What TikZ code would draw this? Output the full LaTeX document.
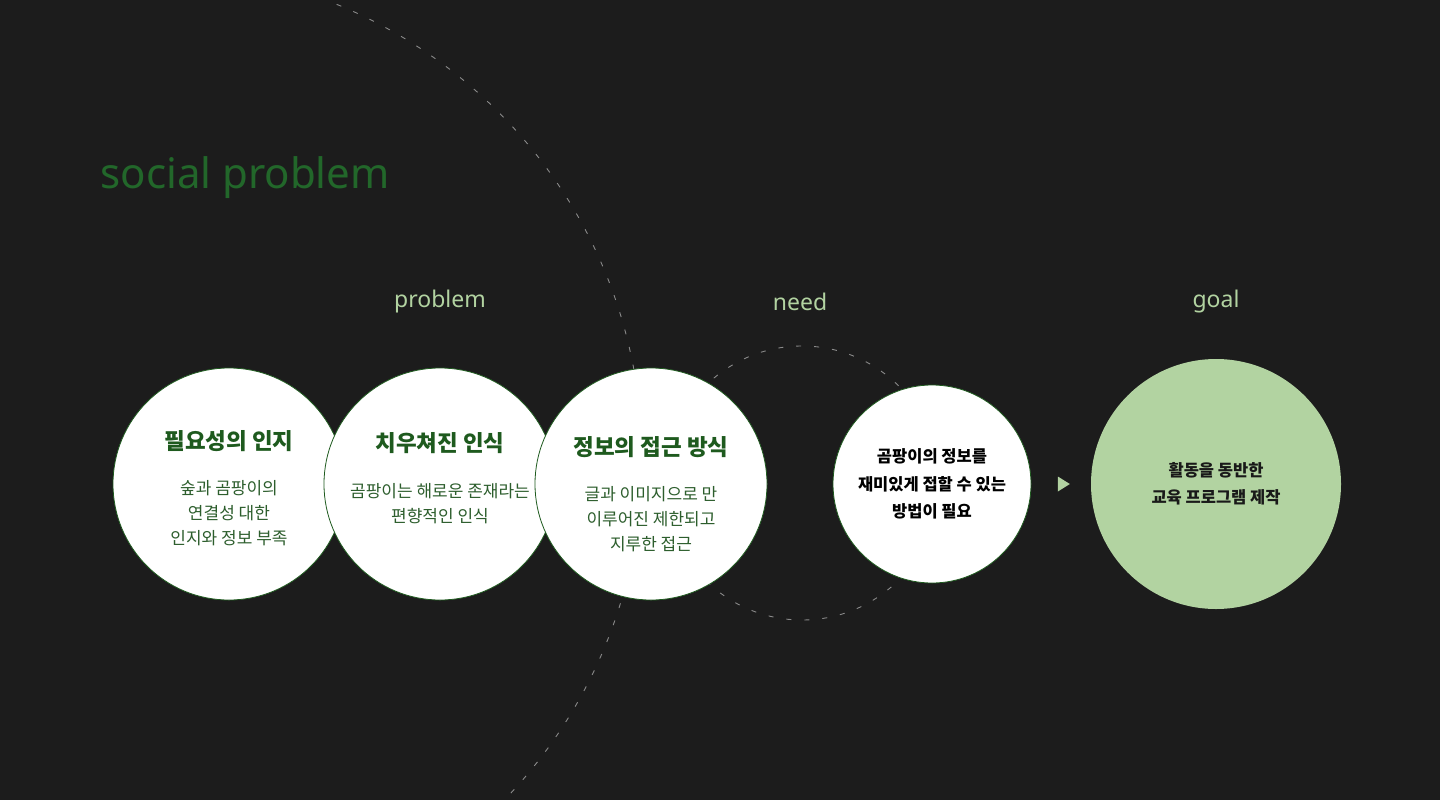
\documentclass[tikz,border=0pt]{standalone}
\usepackage{fontspec}
\setmainfont{Noto Sans}
\newfontfamily\kr{Noto Sans CJK KR}
\usetikzlibrary{shapes.geometric}
\definecolor{bg}{HTML}{1C1C1C}
\definecolor{leaf}{HTML}{1E5A1E}
\definecolor{moss}{HTML}{2D5E2D}
\definecolor{sage}{HTML}{B2D3A1}
\definecolor{deep}{HTML}{22672A}
\definecolor{orbitgray}{HTML}{8A8A8A}

\begin{document}
\begin{tikzpicture}[x=1pt, y=-1pt,
	bubble/.style={circle, draw=leaf, line width=0.8pt, fill=white, minimum size=232pt, inner sep=0pt, align=center, text=moss, font=\kr\fontsize{17}{25}\selectfont},
	orbit/.style={circle, draw=orbitgray, dash pattern=on 5pt off 13pt, line width=0.9pt, inner sep=0pt},
	head/.style={text=sage, font=\fontsize{23}{27}\selectfont}]
\fill [bg] (0,0) rectangle (1440,800);
\clip (0,0) rectangle (1440,800);
\node [orbit, minimum size=982pt] (wide) at (151,459) {};
\node [orbit, minimum size=274pt] (ring) at (802,483) {};
\node [text=deep, font=\fontsize{42}{50}\selectfont, anchor=west] (social) at (97,178) {social problem};
\node [head] (problem) at (440,302) {problem};
\node [head] (need) at (800,302) {need};
\node [head] (goal) at (1216,302) {goal};
\node [bubble] (aware) at (229,484) {{\color{leaf}\bfseries\fontsize{22.5}{25}\selectfont 필요성의 인지}\\[20pt]숲과 곰팡이의\\연결성 대한\\인지와 정보 부족\\[-31pt]};
\node [bubble] (bias) at (440,484) {{\color{leaf}\bfseries\fontsize{22.5}{25}\selectfont 치우쳐진 인식}\\[21pt]곰팡이는 해로운 존재라는\\편향적인 인식\\[-11pt]};
\node [bubble] (access) at (651,484) {{\color{leaf}\bfseries\fontsize{22.5}{25}\selectfont 정보의 접근 방식}\\[20pt]글과 이미지으로 만\\이루어진 제한되고\\지루한 접근\\[-43pt]};
\node [bubble, minimum size=198pt, text=black, font=\kr\bfseries\fontsize{16.5}{27.5}\selectfont] (fun) at (932,484) {곰팡이의 정보를\\재미있게 접할 수 있는\\방법이 필요};
\node [isosceles triangle, fill=sage, inner sep=0pt, minimum height=12pt, minimum width=15pt, isosceles triangle stretches] (tip) at (1062,484) {};
\node [circle, fill=sage, minimum size=250pt, inner sep=0pt, align=center, text=black!90, font=\kr\bfseries\fontsize{16.5}{27.5}\selectfont] (edu) at (1216,484) {활동을 동반한\\교육 프로그램 제작};
\end{tikzpicture}
\end{document}
